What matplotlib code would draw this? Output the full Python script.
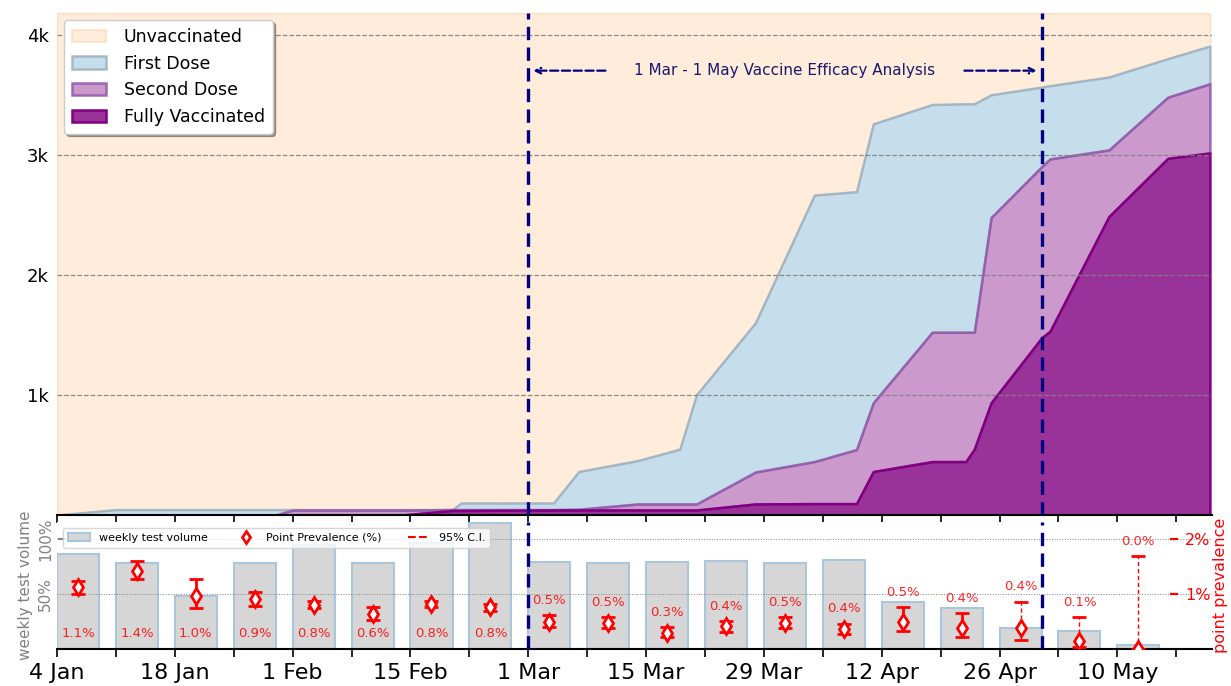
import datetime as dt
import matplotlib
matplotlib.use("Agg")
import matplotlib.pyplot as plt
import matplotlib.dates as mdates
from matplotlib.patches import Patch
from matplotlib.lines import Line2D

# ---------------- data ----------------
vax_dates = ["2021-01-04", "2021-01-11", "2021-01-30", "2021-02-01", "2021-02-14",
             "2021-02-20", "2021-02-21", "2021-03-04", "2021-03-07", "2021-03-14",
             "2021-03-19", "2021-03-21", "2021-03-28", "2021-04-04", "2021-04-09",
             "2021-04-11", "2021-04-18", "2021-04-22", "2021-04-23", "2021-04-25",
             "2021-05-01", "2021-05-02", "2021-05-09", "2021-05-16", "2021-05-21"]
first_dose = [0, 45, 45, 45, 45, 45, 100, 100, 362, 453, 548, 1002, 1601, 2664,
              2692, 3257, 3418, 3424, 3424, 3499, 3563, 3575, 3647, 3800, 3905]
second_dose = [0, 0, 0, 42, 42, 45, 45, 45, 48, 92, 92, 92, 358, 445, 545, 935,
               1522, 1522, 1522, 2477, 2900, 2965, 3040, 3479, 3591]
fully_vacc = [0, 0, 0, 0, 0, 38, 38, 42, 42, 42, 42, 42, 92, 95, 95, 362, 445,
              445, 548, 935, 1475, 1531, 2486, 2970, 3015]
total_population = 4180

week_starts = ["2021-01-04", "2021-01-11", "2021-01-18", "2021-01-25", "2021-02-01",
               "2021-02-08", "2021-02-15", "2021-02-22", "2021-03-01", "2021-03-08",
               "2021-03-15", "2021-03-22", "2021-03-29", "2021-04-05", "2021-04-12",
               "2021-04-19", "2021-04-26", "2021-05-03", "2021-05-10"]
test_volume_pct = [86, 78.5, 48.5, 78.5, 95, 78.5, 96, 114.5, 79, 78, 79, 80, 78.5,
                   81, 42.5, 37, 19, 16, 3.6]
prevalence = [1.12, 1.42, 0.97, 0.91, 0.80, 0.64, 0.82, 0.76, 0.50, 0.48, 0.30,
              0.41, 0.48, 0.36, 0.50, 0.39, 0.38, 0.14, 0.0]
ci_low = [1.00, 1.27, 0.75, 0.78, 0.74, 0.53, 0.76, 0.70, 0.40, 0.38, 0.21, 0.31,
          0.38, 0.27, 0.33, 0.22, 0.17, 0.04, 0.0]
ci_high = [1.24, 1.60, 1.27, 1.04, 0.87, 0.76, 0.88, 0.82, 0.61, 0.58, 0.40, 0.51,
           0.58, 0.46, 0.76, 0.65, 0.86, 0.58, 1.69]

xtick_labels = ["4 Jan", "18 Jan", "1 Feb", "15 Feb", "1 Mar", "15 Mar", "29 Mar",
                "12 Apr", "26 Apr", "10 May"]
ytick_top = [1000, 2000, 3000, 4000]
ytick_top_labels = ["1k", "2k", "3k", "4k"]
analysis_start = "2021-03-01"
analysis_end = "2021-05-01"
annotation_text = "1 Mar - 1 May Vaccine Efficacy Analysis"

# ---------------- helpers ----------------
def d(s):
    return dt.datetime.strptime(s, "%Y-%m-%d")

vx = [d(s) for s in vax_dates]
wk = [d(s) for s in week_starts]
x0 = d("2021-01-04")
x1 = d("2021-05-21") + dt.timedelta(hours=6)
a0 = d(analysis_start)
a1 = d(analysis_end)

fig = plt.figure(figsize=(12.31, 6.86), dpi=100)
W, H = 1231, 686
L, R = 57, 1212
ax = fig.add_axes([L / W, 1 - 515 / H, (R - L) / W, (515 - 13) / H])
axb = fig.add_axes([L / W, 1 - 649 / H, (R - L) / W, (649 - 522) / H])

# ---------------- top panel ----------------
ax.fill_between(vx, first_dose, total_population, facecolor=(1.0, 0.855, 0.725, 0.5),
                edgecolor=(1.0, 0.84, 0.70, 0.7), lw=1.2, label="Unvaccinated")
ax.fill_between(vx, second_dose, first_dose, facecolor=(0.12, 0.47, 0.71, 0.25),
                edgecolor=(0.62, 0.70, 0.76, 0.9), lw=1.8, label="First Dose")
ax.fill_between(vx, fully_vacc, second_dose, facecolor=(0.5, 0.0, 0.5, 0.4),
                edgecolor=(0.58, 0.36, 0.68, 0.9), lw=1.8, label="Second Dose")
ax.fill_between(vx, 0, fully_vacc, facecolor=(0.5, 0.0, 0.5, 0.8),
                edgecolor=(0.5, 0.0, 0.5, 1.0), lw=1.8, label="Fully Vaccinated")

ax.set_xlim(x0, x1)
ax.set_ylim(0, total_population)
ax.set_yticks(ytick_top)
ax.set_yticklabels(ytick_top_labels)
ax.tick_params(axis="y", length=0, labelsize=13, pad=6)
ax.set_xticks([x0 + dt.timedelta(days=7 * i) for i in range(20)])
ax.tick_params(axis="x", length=6, width=1.2, labelbottom=False, direction="out")
for s in ["top", "right", "left"]:
    ax.spines[s].set_visible(False)
ax.spines["bottom"].set_linewidth(1.5)
ax.grid(axis="y", ls="--", color="grey", lw=0.9, alpha=0.9)
ax.set_axisbelow(False)

for xv in (a0, a1):
    ax.axvline(xv, color="navy", ls=(0, (4, 2.2)), lw=2.4, zorder=5)

mid = a0 + (a1 - a0) / 2
yann = 3700
ax.text(mid, yann, annotation_text, color="midnightblue", fontsize=11,
        ha="center", va="center", zorder=6)
ax.annotate("", xy=(a0 + dt.timedelta(hours=6), yann),
            xytext=(mid - dt.timedelta(days=21.0), yann),
            arrowprops=dict(arrowstyle="->", color="navy", lw=1.6, ls="--"), zorder=6)
ax.annotate("", xy=(a1 - dt.timedelta(hours=6), yann),
            xytext=(mid + dt.timedelta(days=21.0), yann),
            arrowprops=dict(arrowstyle="->", color="navy", lw=1.6, ls="--"), zorder=6)

leg = ax.legend(loc="upper left", bbox_to_anchor=(0.006, 0.986), fontsize=12.5,
                shadow=True, framealpha=1, borderpad=0.45, labelspacing=0.5,
                handletextpad=1.0, borderaxespad=0)
leg.set_zorder(10)

# ---------------- bottom panel ----------------
axb.bar(wk, test_volume_pct, width=5, align="edge", color="#d6d6d6",
        edgecolor="#aac6dc", lw=1.5, zorder=2)
axb.set_xlim(x0, x1)
axb.set_ylim(0, 115.5)
axb.spines["left"].set_position(("axes", 0.0075))
for s in ["top", "right", "left"]:
    axb.spines[s].set_visible(False)
axb.spines["bottom"].set_linewidth(1.5)
axb.set_yticks([50, 100])
axb.set_yticklabels(["50%", "100%"])
axb.tick_params(axis="y", colors="dimgrey", labelcolor="grey", labelsize=11,
                length=6, width=1.2, labelrotation=90, pad=3)
for t in axb.get_yticklabels():
    t.set_va("center")
axb.set_ylabel("weekly test volume", color="grey", fontsize=11, labelpad=4)

ticks = [x0 + dt.timedelta(days=7 * i) for i in range(20)]
axb.set_xticks(ticks)
labels = []
for i in range(20):
    labels.append(xtick_labels[i // 2] if i % 2 == 0 and i // 2 < len(xtick_labels) else "")
axb.set_xticklabels(labels)
axb.tick_params(axis="x", length=6, width=1.2, labelsize=16, pad=4)

ax2 = axb.twinx()
ax2.set_xlim(x0, x1)
ax2.set_ylim(0, 2.31)
ax2.spines["right"].set_position(("axes", 0.9635))
for s in ["top", "right", "left", "bottom"]:
    ax2.spines[s].set_visible(False)
ax2.set_yticks([1, 2])
ax2.set_yticklabels(["1%", "2%"])
ax2.tick_params(axis="y", colors="red", labelsize=11.5, length=6, width=1.6, pad=5)
ax2.set_ylabel("point prevalence", color="red", fontsize=11.5, labelpad=2)

for yv in (1, 2):
    ax2.axhline(yv, color="grey", ls=":", lw=0.7, zorder=1)

for i, w in enumerate(wk):
    xc = w + dt.timedelta(days=2.5)
    small = test_volume_pct[i] < 30
    eb = ax2.errorbar([xc], [prevalence[i]],
                      yerr=[[prevalence[i] - ci_low[i]], [ci_high[i] - prevalence[i]]],
                      fmt="d", color="red", mfc="white", mec="red", ms=8, mew=2,
                      ecolor="red", elinewidth=1.0 if small else 2.0,
                      capsize=5, capthick=1.5 if small else 2.0, zorder=4)
    if small:
        eb[2][0].set_linestyle((0, (3, 2)))
    ylab = 0.29 if w < a0 else ci_high[i] + 0.27
    ax2.text(xc, ylab, f"{prevalence[i]:.1f}%", color="red", alpha=0.85,
             fontsize=9.5, ha="center", va="center", zorder=5)

for xv in (a0, a1):
    ax2.axvline(xv, color="navy", ls=(0, (4, 2.2)), lw=2.4, zorder=6)

handles = [Patch(facecolor="#d6d6d6", edgecolor="#aac6dc", lw=1.5),
           Line2D([], [], marker="d", color="red", mfc="white", mew=2, ms=6, ls="none"),
           Line2D([], [], color="red", ls="--", lw=1.5)]
leg2 = ax2.legend(handles, ["weekly test volume", "Point Prevalence (%)", "95% C.I."],
                  loc="upper left", bbox_to_anchor=(0.005, 0.955), ncol=3, fontsize=8,
                  borderaxespad=0, borderpad=0.45, columnspacing=2.4, framealpha=0.8)
leg2.set_zorder(10)

fig.savefig("out.png", dpi=100)
